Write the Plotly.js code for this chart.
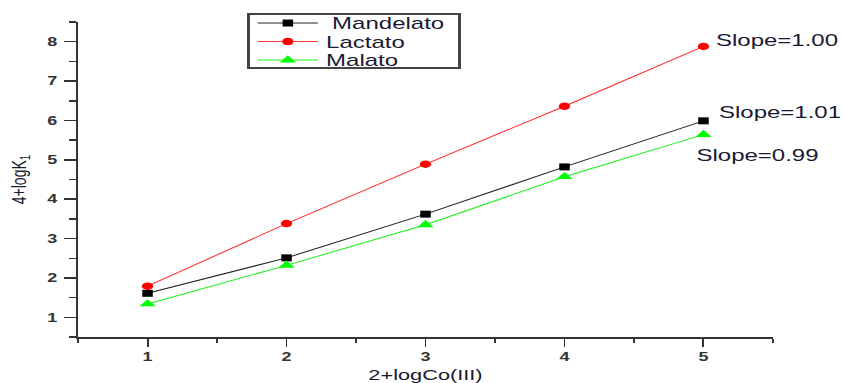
<!DOCTYPE html>
<html>
<head>
<meta charset="utf-8">
<script src="https://cdn.plot.ly/plotly-3.0.1.min.js"></script>
<style>
html,body{margin:0;padding:0;background:#fff;overflow:hidden;width:842px;height:383px;}
#chart{width:561px;height:383px;transform:scaleX(1.50089);transform-origin:0 0;}
</style>
</head>
<body>
<div id="chart"></div>
<script>
const xValues = [1, 2, 3, 4, 5];
const mandelato = [1.61, 2.51, 3.62, 4.82, 5.99];
const lactato = [1.79, 3.38, 4.89, 6.36, 7.88];
const malato = [1.34, 2.32, 3.35, 4.57, 5.64];
const seriesNames = ['Mandelato', 'Lactato', 'Malato'];
const slopeLabels = ['Slope=1.00', 'Slope=1.01', 'Slope=0.99'];

const traces = [
  {x: xValues, y: mandelato, name: seriesNames[0], mode: 'lines+markers',
   line: {color: '#222222', width: 1}, marker: {symbol: 'square', size: 7, color: '#000000'}},
  {x: xValues, y: lactato, name: seriesNames[1], mode: 'lines+markers',
   line: {color: '#ff3333', width: 1}, marker: {symbol: 'circle', size: 7.5, color: '#ff0000'}},
  {x: xValues, y: malato, name: seriesNames[2], mode: 'lines+markers',
   line: {color: '#22ee22', width: 1}, marker: {symbol: 'triangle-up', size: 9.5, color: '#00ff00'}}
];

const FAM = 'Liberation Sans, Arial, sans-serif';
const tickFont = {family: FAM, size: 12, color: '#333333', weight: 'bold'};
const textFont = {family: FAM, size: 16, color: '#1a1a33'};

const layout = {
  width: 561, height: 383,
  margin: {l: 51.6, r: 45.6, t: 22, b: 45.6},
  paper_bgcolor: '#ffffff', plot_bgcolor: '#ffffff',
  showlegend: true,
  legend: {x: 0.2436, y: 1.0285, xanchor: 'left', yanchor: 'top',
    bordercolor: '#444444', borderwidth: 2, bgcolor: '#ffffff',
    font: {family: FAM, size: 16, color: '#1a1a33'}, tracegroupgap: 0},
  xaxis: {range: [0.5, 5.5], dtick: 1, tick0: 1, showgrid: false, zeroline: false,
    showline: true, linecolor: '#333333', linewidth: 2,
    ticks: 'outside', ticklen: 8, tickwidth: 1.3, tickcolor: '#333333',
    minor: {ticks: 'outside', dtick: 0.5, tick0: 0.5, ticklen: 4, tickwidth: 1.3, tickcolor: '#333333'},
    tickfont: tickFont,
    title: {text: '2+logCo(III)', font: {family: FAM, size: 14.5, color: '#1a1a33'}, standoff: 8}},
  yaxis: {range: [0.5, 8.5], dtick: 1, tick0: 1, showgrid: false, zeroline: false,
    showline: true, linecolor: '#333333', linewidth: 1.5,
    ticks: 'outside', ticklen: 8, tickwidth: 1.5, tickcolor: '#333333',
    minor: {ticks: 'outside', dtick: 0.5, tick0: 0.5, ticklen: 4.7, tickwidth: 1.5, tickcolor: '#333333'},
    tickfont: tickFont, ticklabelstandoff: 2,
    title: {text: '4+logK<sub>1</sub>', font: {family: FAM, size: 14, color: '#1a1a33'}, standoff: 10}},
  annotations: [
    {x: 5.064, y: 8.02, xref: 'x', yref: 'y', text: slopeLabels[0], showarrow: false, xanchor: 'left', yanchor: 'middle', font: textFont},
    {x: 5.085, y: 6.19, xref: 'x', yref: 'y', text: slopeLabels[1], showarrow: false, xanchor: 'left', yanchor: 'middle', font: textFont},
    {x: 4.928, y: 5.10, xref: 'x', yref: 'y', text: slopeLabels[2], showarrow: false, xanchor: 'left', yanchor: 'middle', font: textFont}
  ]
};

const gd = document.getElementById('chart');
Plotly.newPlot(gd, traces, layout, {displayModeBar: false, staticPlot: true}).then(function () {
  try {
    const leg = gd.querySelector('g.legend');
    const bw = 2, boxW = 142.6, boxH = 56;
    const bg = leg.querySelector('rect.bg');
    bg.setAttribute('x', bw / 2); bg.setAttribute('y', bw / 2);
    bg.setAttribute('width', boxW - bw); bg.setAttribute('height', boxH - bw);
    const sb = leg.querySelector('g.scrollbox');
    if (sb) { sb.removeAttribute('clip-path'); sb.setAttribute('transform', 'translate(0,0)'); }
    const rows = [10, 28.5, 47];
    const textX = [56.5, 52.5, 52.5];
    leg.querySelectorAll('g.traces').forEach(function (t, i) {
      t.setAttribute('transform', 'translate(0,' + rows[i] + ')');
      t.querySelectorAll('path.js-line').forEach(function (p) { p.setAttribute('d', 'M7,0h40'); });
      t.querySelectorAll('path.scatterpts').forEach(function (p) { p.setAttribute('transform', 'translate(27,0)'); });
      const tx = t.querySelector('text.legendtext');
      if (tx) tx.setAttribute('x', textX[i]);
    });
  } catch (e) { console.log(e); }
});
</script>
</body>
</html>
